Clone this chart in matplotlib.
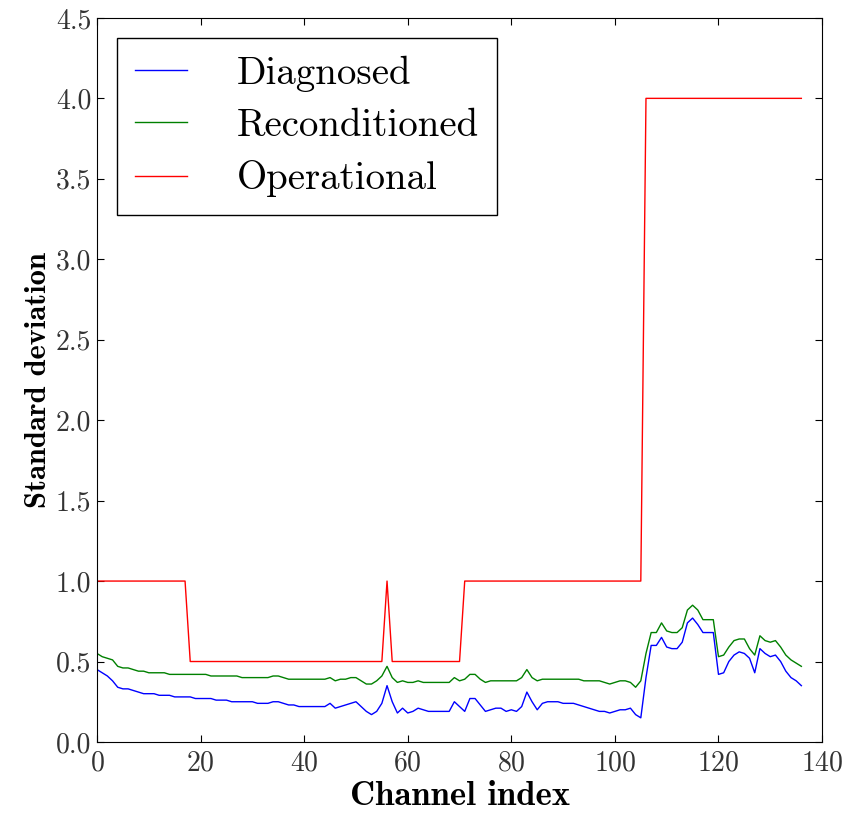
import matplotlib
matplotlib.use("Agg")
import matplotlib.pyplot as plt

plt.rcParams['font.family'] = 'serif'
plt.rcParams['font.serif'] = ['cmr10', 'DejaVu Serif']
plt.rcParams['axes.formatter.use_mathtext'] = True
plt.rcParams['mathtext.fontset'] = 'cm'

# channel index 0..136
channels = list(range(137))

diagnosed = [
    0.45, 0.43, 0.41, 0.38, 0.34, 0.33, 0.33, 0.32, 0.31, 0.30,
    0.30, 0.30, 0.29, 0.29, 0.29, 0.28, 0.28, 0.28, 0.28, 0.27,
    0.27, 0.27, 0.27, 0.26, 0.26, 0.26, 0.25, 0.25, 0.25, 0.25,
    0.25, 0.24, 0.24, 0.24, 0.25, 0.25, 0.24, 0.23, 0.23, 0.22,
    0.22, 0.22, 0.22, 0.22, 0.22, 0.24, 0.21, 0.22, 0.23, 0.24,
    0.25, 0.22, 0.19, 0.17, 0.19, 0.24, 0.35, 0.25, 0.18, 0.21,
    0.18, 0.19, 0.21, 0.20, 0.19, 0.19, 0.19, 0.19, 0.19, 0.25,
    0.22, 0.19, 0.27, 0.27, 0.23, 0.19, 0.20, 0.21, 0.21, 0.19,
    0.20, 0.19, 0.22, 0.31, 0.25, 0.20, 0.24, 0.25, 0.25, 0.25,
    0.24, 0.24, 0.24, 0.23, 0.22, 0.21, 0.20, 0.19, 0.19, 0.18,
    0.19, 0.20, 0.20, 0.21, 0.17, 0.15, 0.40, 0.60, 0.60, 0.65,
    0.59, 0.58, 0.58, 0.62, 0.74, 0.77, 0.73, 0.68, 0.68, 0.68,
    0.42, 0.43, 0.50, 0.54, 0.56, 0.55, 0.52, 0.43, 0.58, 0.55,
    0.53, 0.54, 0.50, 0.44, 0.40, 0.38, 0.35,
]

reconditioned = [
    0.55, 0.53, 0.52, 0.51, 0.47, 0.46, 0.46, 0.45, 0.44, 0.44,
    0.43, 0.43, 0.43, 0.43, 0.42, 0.42, 0.42, 0.42, 0.42, 0.42,
    0.42, 0.42, 0.41, 0.41, 0.41, 0.41, 0.41, 0.41, 0.40, 0.40,
    0.40, 0.40, 0.40, 0.40, 0.41, 0.41, 0.40, 0.39, 0.39, 0.39,
    0.39, 0.39, 0.39, 0.39, 0.39, 0.40, 0.38, 0.39, 0.39, 0.40,
    0.40, 0.38, 0.36, 0.36, 0.38, 0.41, 0.47, 0.40, 0.37, 0.38,
    0.37, 0.37, 0.38, 0.37, 0.37, 0.37, 0.37, 0.37, 0.37, 0.40,
    0.38, 0.39, 0.42, 0.42, 0.39, 0.37, 0.38, 0.38, 0.38, 0.38,
    0.38, 0.38, 0.40, 0.45, 0.40, 0.38, 0.39, 0.39, 0.39, 0.39,
    0.39, 0.39, 0.39, 0.39, 0.38, 0.38, 0.38, 0.38, 0.37, 0.36,
    0.37, 0.38, 0.38, 0.37, 0.34, 0.38, 0.55, 0.68, 0.68, 0.74,
    0.69, 0.68, 0.68, 0.71, 0.82, 0.85, 0.82, 0.76, 0.76, 0.76,
    0.53, 0.54, 0.59, 0.63, 0.64, 0.64, 0.58, 0.54, 0.66, 0.63,
    0.62, 0.63, 0.59, 0.54, 0.51, 0.49, 0.47,
]

operational = ([1.0] * 18 + [0.5] * 38 + [1.0] + [0.5] * 14
               + [1.0] * 35 + [4.0] * 31)

fig = plt.figure(figsize=(8.51, 8.14), dpi=100)
ax = fig.add_axes([0.114, 0.0885, 0.852, 0.8895])

ax.plot(channels, diagnosed, color='b', lw=1.0, label='Diagnosed')
ax.plot(channels, reconditioned, color='g', lw=1.0, label='Reconditioned')
ax.plot(channels, operational, color='r', lw=1.0, label='Operational')

ax.set_xlim(0, 140)
ax.set_ylim(0, 4.5)
ax.set_xticks(range(0, 141, 20))
ax.set_yticks([i * 0.5 for i in range(10)])
ax.set_yticklabels(['%.1f' % (i * 0.5) for i in range(10)])
ax.tick_params(direction='in', top=True, right=True, labelsize=20,
               labelcolor='0.2', length=5)
ax.tick_params(axis='y', pad=4)
ax.tick_params(axis='x', pad=6)

ax.set_xlabel('Channel index', fontsize=25, fontfamily='cmb10', labelpad=3)
ax.set_ylabel('Standard deviation', fontsize=22, fontfamily='cmb10', labelpad=3)

leg = ax.legend(loc='upper left', bbox_to_anchor=(0.0276, 0.9724),
                borderaxespad=0, fontsize=28, fancybox=False,
                handlelength=1.36, handletextpad=1.28, labelspacing=0.42,
                borderpad=0.45, framealpha=1)
leg.get_frame().set_edgecolor('black')
leg.get_frame().set_linewidth(1.0)

fig.savefig('out.png', dpi=100)
